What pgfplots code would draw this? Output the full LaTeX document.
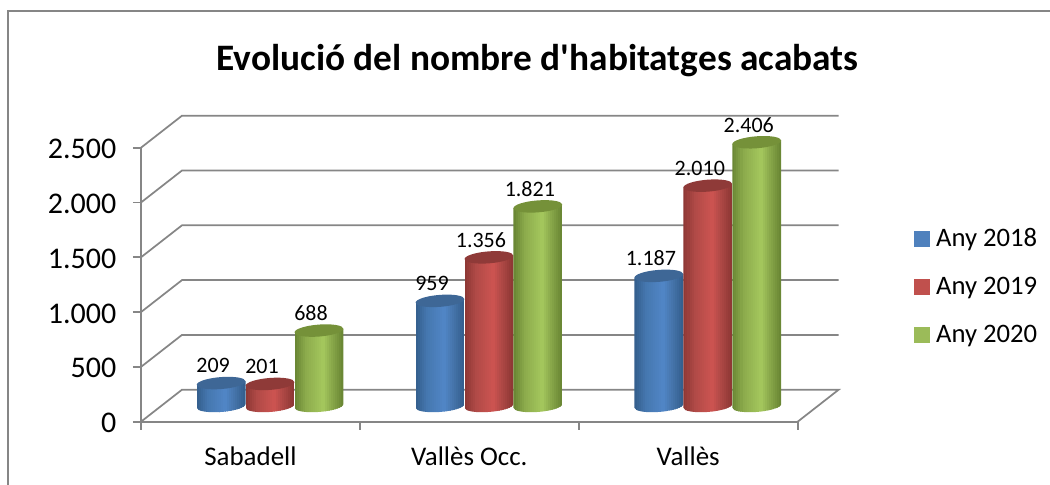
\documentclass[border=0pt]{standalone}
\usepackage{fontspec}
\setmainfont{Carlito}[Ligatures=TeXOff]
\usepackage{pgfplots}
\pgfplotsset{compat=1.18}
\definecolor{gridgray}{HTML}{868686}
\definecolor{topblue}{HTML}{3E6796}
\definecolor{topred}{HTML}{8F3A38}
\definecolor{topgreen}{HTML}{759139}
\definecolor{legblue}{HTML}{4F81BD}
\definecolor{legred}{HTML}{C0504D}
\definecolor{leggreen}{HTML}{9BBB59}
\definecolor{be}{HTML}{35608F}\definecolor{bm}{HTML}{4577AF}\definecolor{bb}{HTML}{5085C5}\definecolor{bn}{HTML}{4675AC}
\definecolor{re}{HTML}{8F3835}\definecolor{rm}{HTML}{B04A47}\definecolor{rb}{HTML}{CB5350}\definecolor{rn}{HTML}{AE4845}
\definecolor{ge}{HTML}{6B8835}\definecolor{gm}{HTML}{8CAB4C}\definecolor{gb}{HTML}{A3C65C}\definecolor{gn}{HTML}{89A84A}
\def\cylcolorsblue{\colorlet{cE}{be}\colorlet{cM}{bm}\colorlet{cB}{bb}\colorlet{cN}{bn}}
\def\cylcolorsred{\colorlet{cE}{re}\colorlet{cM}{rm}\colorlet{cB}{rb}\colorlet{cN}{rn}}
\def\cylcolorsgreen{\colorlet{cE}{ge}\colorlet{cM}{gm}\colorlet{cB}{gb}\colorlet{cN}{gn}}
\pgfdeclareplotmark{toptblue}{\pgfpathellipse{\pgfpointorigin}{\pgfpoint{18.3pt}{1.35pt}}{\pgfpoint{0pt}{4.5pt}}\pgfsetfillcolor{topblue}\pgfusepathqfill}
\pgfdeclareplotmark{toptred}{\pgfpathellipse{\pgfpointorigin}{\pgfpoint{18.3pt}{1.35pt}}{\pgfpoint{0pt}{4.5pt}}\pgfsetfillcolor{topred}\pgfusepathqfill}
\pgfdeclareplotmark{toptgreen}{\pgfpathellipse{\pgfpointorigin}{\pgfpoint{18.3pt}{1.35pt}}{\pgfpoint{0pt}{4.5pt}}\pgfsetfillcolor{topgreen}\pgfusepathqfill}
\pgfplotsset{
  cyl/.style n args={3}{
    only marks, scatter, point meta=y,
    mark=topt#1, forget plot, xshift=#2, yshift=11.8pt,
    visualization depends on={y \as \cyv},
    scatter/@post marker code/.code={},
    nodes near coords,
    nodes near coords style={font=\fontsize{16.5pt}{18pt}\selectfont, text=black, anchor=center, xshift=-6pt, yshift=13pt, inner sep=0pt},
    scatter/@pre marker code/.code={%
      \pgfmathsetlengthmacro\cylH{\cyv*0.0822pt}%
      \csname cylcolors#1\endcsname
      \begin{scope}
      \path[clip, draw=none] (-18.3pt,-1.35pt) -- (-18.3pt,-1.35pt-\cylH)
        .. controls (-18.3pt,-3.835pt-\cylH) and (-10.107pt,-5.246pt-\cylH) .. (0pt,-4.5pt-\cylH)
        .. controls (10.107pt,-3.754pt-\cylH) and (18.3pt,-1.135pt-\cylH) .. (18.3pt,1.35pt-\cylH)
        -- (18.3pt,1.35pt) -- cycle;%
      \foreach \cyk/\cyc in {0/cE,1/cM!20!cE,2/cM!40!cE,3/cM!60!cE,4/cM!80!cE,5/cM,
        6/cB!12!cM,7/cB!25!cM,8/cB!37!cM,9/cB!50!cM,10/cB!62!cM,11/cB!75!cM,12/cB!87!cM,13/cB,
        14/cB,15/cN!25!cB,16/cN!50!cB,17/cN!75!cB,18/cN,
        19/cE!20!cN,20/cE!40!cN,21/cE!60!cN,22/cE!80!cN,23/cE}{%
        \path[fill=\cyc, draw=none] (-18.3pt+\cyk*1.525pt,-\cylH-6pt) rectangle (-16.45pt+\cyk*1.525pt,3pt);%
      }%
      \end{scope}%
    },
  },
  grid3d/.style={gridgray, line width=1.3pt, no marks, forget plot, sharp plot},
}
\begin{document}
\begin{tikzpicture}
\path[use as bounding box] (0,0) rectangle (787.5pt,363.75pt);
\draw[gridgray, line width=1.3pt] (6pt,0pt) -- (6pt,355.5pt) -- (787.5pt,355.5pt);
\begin{axis}[
  at={(105.75pt,47.475pt)}, anchor=south west,
  scale only axis, width=492.5pt, height=205.5pt,
  xmin=0, xmax=3, ymin=0, ymax=2500, clip=false,
  axis x line=bottom, axis y line=left,
  axis line style={-, draw=gridgray, line width=1.3pt},
  tick style={draw=gridgray, line width=1.3pt},
  tick align=outside, major tick length=6pt,
  xtick={0,1,2,3}, xticklabels={},
  extra x ticks={0.5,1.5,2.5},
  extra x tick labels={Sabadell,Vallès Occ.,Vallès},
  extra x tick style={major tick length=0pt, tick style={draw=none},
    xticklabel style={font=\fontsize{20.2pt}{22pt}\selectfont, yshift=-15pt}},
  ytick={0,500,1000,1500,2000,2500},
  yticklabel style={font=\fontsize{22.5pt}{24pt}\selectfont, xshift=-9pt, yshift=-1pt},
  /pgf/number format/.cd, 1000 sep={.}, fixed, precision=0, assume math mode=true,
  /pgfplots/.cd,
  title={\bfseries Evolució del nombre d'habitatges acabats},
  title style={at={(0.6038,1.29)}, anchor=center, font=\fontsize{28pt}{32pt}\selectfont},
  legend style={draw=none, fill=none, at={(1.177,0.4934)}, anchor=west, inner sep=0pt, outer sep=0pt,
    font=\fontsize{20pt}{22pt}\selectfont, row sep=21.5pt,
    nodes={inner sep=0pt, outer sep=0pt}, column sep=5pt},
  legend cell align=left,
]
\addplot[grid3d] coordinates {(0,0) (0.1873,292) (3.1873,292) (3,0)};
\addplot[grid3d] coordinates {(0,500) (0.1873,792) (3.1873,792)};
\addplot[grid3d] coordinates {(0,1000) (0.1873,1292) (3.1873,1292)};
\addplot[grid3d] coordinates {(0,1500) (0.1873,1792) (3.1873,1792)};
\addplot[grid3d] coordinates {(0,2000) (0.1873,2292) (3.1873,2292)};
\addplot[grid3d] coordinates {(0,2500) (0.1873,2792) (3.1873,2792)};

\addplot[cyl={blue}{-22pt}{}] coordinates {(0.5,209) (1.5,959) (2.5,1187)};
\addplot[cyl={red}{14.7pt}{}] coordinates {(0.5,201) (1.5,1356) (2.5,2010)};
\addplot[cyl={green}{51.4pt}{}] coordinates {(0.5,688) (1.5,1821) (2.5,2406)};

\addlegendimage{legend image code/.code={\fill[legblue] (0pt,-5.6pt) rectangle (11.25pt,5.6pt);}}
\addlegendentry{Any 2018}
\addlegendimage{legend image code/.code={\fill[legred] (0pt,-5.6pt) rectangle (11.25pt,5.6pt);}}
\addlegendentry{Any 2019}
\addlegendimage{legend image code/.code={\fill[leggreen] (0pt,-5.6pt) rectangle (11.25pt,5.6pt);}}
\addlegendentry{Any 2020}
\end{axis}
\end{tikzpicture}
\end{document}
